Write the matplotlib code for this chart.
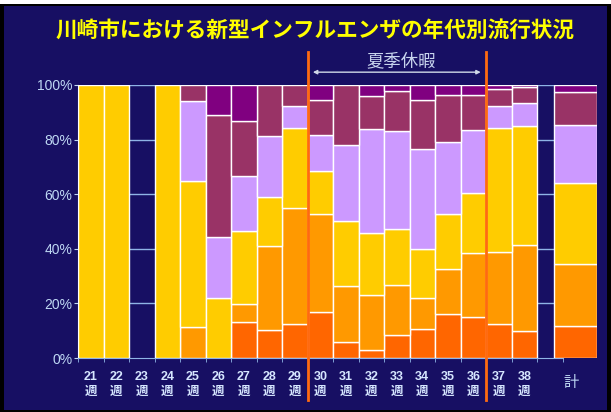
import numpy as np
import matplotlib.pyplot as plt
from matplotlib.patches import Rectangle

plt.rcParams['font.family'] = ['Noto Sans CJK JP', 'DejaVu Sans']

weeks = ['21', '22', '23', '24', '25', '26', '27', '28', '29',
         '30', '31', '32', '33', '34', '35', '36', '37', '38']
total_label = '計'

# share (%) of each band per week, bottom band first; week 23 has no data
band1 = [0, 0, 0, 0, 0, 0, 13.1, 10.2, 12.5, 16.8, 5.8, 2.9, 8.3, 10.8, 16.3, 15.1, 12.5, 9.9]
band2 = [0, 0, 0, 0, 11.5, 0, 6.8, 30.7, 42.4, 35.8, 20.5, 20.2, 18.4, 11.1, 16.3, 23.3, 26.2, 31.5]
band3 = [100, 100, 0, 100, 53.2, 21.9, 26.8, 18.0, 29.5, 15.9, 23.7, 22.6, 20.6, 18.0, 20.0, 21.9, 45.5, 43.4]
band4 = [0, 0, 0, 0, 29.6, 22.5, 19.9, 22.6, 7.9, 13.1, 28.1, 38.1, 36.0, 36.5, 26.7, 23.3, 8.0, 8.7]
band5 = [0, 0, 0, 0, 5.7, 44.6, 20.1, 18.5, 7.7, 13.0, 21.9, 12.3, 14.4, 18.1, 17.2, 12.9, 6.3, 5.6]
band6 = [0, 0, 0, 0, 0, 11.0, 13.3, 0, 0, 5.4, 0, 3.9, 2.3, 5.5, 3.5, 3.5, 1.5, 0.9]
total = [11.8, 22.6, 29.7, 21.4, 11.8, 2.7]

colors = ['#FF6600', '#FF9900', '#FFCC00', '#CC99FF', '#993366', '#800080']
bg = '#170F63'
light = '#BFD8F4'

fig = plt.figure(figsize=(6.11, 4.12), dpi=100, facecolor='black')
fig.patches.append(Rectangle((0, 408 / 412), 1, 4 / 412, transform=fig.transFigure,
                             facecolor='white', zorder=-5))
fig.patches.append(Rectangle((4 / 611, 2 / 412), 603 / 611, 404 / 412,
                             transform=fig.transFigure, facecolor=bg, zorder=-5))
ax = fig.add_axes([78 / 611, 1 - 358 / 412, 519 / 611, 273 / 412])
ax.set_facecolor('none')

x = np.arange(len(weeks))
bands = [band1, band2, band3, band4, band5, band6]
bottom = np.zeros(len(weeks))
for vals, c in zip(bands, colors):
    vals = np.array(vals, dtype=float)
    m = vals > 0
    ax.bar(x[m], vals[m], width=1.0, bottom=bottom[m], color=c,
           edgecolor='white', linewidth=1, zorder=3)
    bottom += vals

tx = 19.0
b = 0
for v, c in zip(total, colors):
    ax.bar(tx, v, width=1.7, bottom=b, color=c, edgecolor='white',
           linewidth=1, zorder=3)
    b += v

ax.set_xlim(-0.5, 19.85)
ax.set_ylim(0, 100)
ax.hlines([20, 40, 60, 80, 100], -0.5, 18.5, color='#8FB4E6', linewidth=1, zorder=1)

for s in ['top', 'right']:
    ax.spines[s].set_visible(False)
ax.spines['left'].set_color(light)
ax.spines['bottom'].set_color('#8FB4E6')
ax.spines['bottom'].set_bounds(-0.5, 18.5)

ax.set_yticks([0, 20, 40, 60, 80, 100])
ax.set_yticklabels(['0%', '20%', '40%', '60%', '80%', '100%'],
                   family=['Liberation Sans', 'DejaVu Sans'])
ax.tick_params(axis='y', colors=light, labelsize=10, length=3, pad=1)

ax.set_xticks(list(x) + [tx])
ax.set_xticklabels([w + '\n週' for w in weeks] + [''],
                   family=['Liberation Sans', 'Noto Sans CJK JP'])
ax.tick_params(axis='x', length=0, pad=9, labelcolor='#D6E6FF', labelsize=9)
for lab in ax.get_xticklabels():
    lab.set_fontweight('bold')
    lab.set_linespacing(1.4)
ax.set_xticks(np.arange(-0.5, 19, 1), minor=True)
ax.tick_params(axis='x', which='minor', length=3, color='#8FB4E6')
ax.text(tx - 0.15, -9, total_label, ha='center', va='center', fontsize=11, color=light)

# summer holiday markers
for xv in [8.5, 15.5]:
    ax.axvline(xv, ymin=-0.155, ymax=1.12, color='#FF6A10', linewidth=2,
               clip_on=False, zorder=5)
ax.annotate('', xy=(8.6, 104.7), xytext=(15.4, 104.7),
            arrowprops=dict(arrowstyle='<|-|>', color='#D0D8E8', lw=1,
                            mutation_scale=6), annotation_clip=False)
ax.text(12.18, 108.7, '夏季休暇', ha='center', va='center', fontsize=12.5,
        color='#C8D4EE')

fig.text(315 / 611, 1 - 30 / 412, '川崎市における新型インフルエンザの年代別流行状況',
         ha='center', va='center', fontsize=15.6, fontweight='bold', color='#FFFF00')

fig.savefig('out.png', dpi=100, facecolor=fig.get_facecolor())
